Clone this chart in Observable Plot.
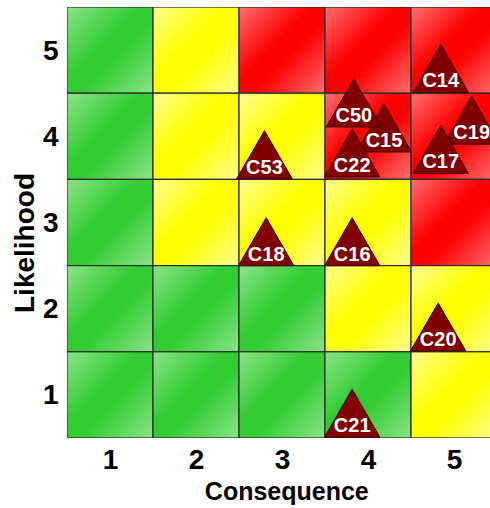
<!DOCTYPE html>
<html>
<head>
<meta charset="utf-8">
<script src="https://cdn.jsdelivr.net/npm/d3@7"></script>
<script src="https://cdn.jsdelivr.net/npm/@observablehq/plot@0.6"></script>
<style>
  html, body { margin: 0; padding: 0; background: white; overflow: hidden; }
  #chart svg { display: block; }
</style>
</head>
<body>
<div id="chart"></div>
<script>
// Axis categories
const consequenceTicks = [1, 2, 3, 4, 5];
const likelihoodTicks = [1, 2, 3, 4, 5];

// Risk level per cell, rows from likelihood 5 (top) down to likelihood 1
const levelRows = [
  ["green", "yellow", "red", "red", "red"],       // likelihood 5
  ["green", "yellow", "yellow", "red", "red"],    // likelihood 4
  ["green", "yellow", "yellow", "yellow", "red"], // likelihood 3
  ["green", "green", "green", "yellow", "yellow"],// likelihood 2
  ["green", "green", "green", "green", "yellow"]  // likelihood 1
];
const rowLikelihood = [5, 4, 3, 2, 1];

// Risks (drawing order), positioned by consequence / likelihood
const riskIds        = ["C14", "C19", "C17", "C15", "C50", "C22", "C53", "C18", "C16", "C20", "C21"];
const riskConsequence = [4.84, 5.20, 4.84, 4.18, 3.83, 3.81, 2.79, 2.81, 3.81, 4.81, 3.81];
const riskLikelihood  = [4.70, 4.10, 3.76, 4.01, 4.30, 3.72, 3.70, 2.69, 2.69, 1.70, 0.70];

const axisTitleX = "Consequence";
const axisTitleY = "Likelihood";

// Build tables for the library
const cells = [];
levelRows.forEach((row, i) => row.forEach((level, j) => {
  cells.push({c: consequenceTicks[j], l: rowLikelihood[i], level});
}));
const risks = riskIds.map((id, i) => ({id, c: riskConsequence[i], l: riskLikelihood[i]}));

const font = "'Liberation Sans', Arial, Helvetica, sans-serif";

const chart = Plot.plot({
  width: 490,
  height: 508,
  marginLeft: 67,
  marginRight: 0,
  marginTop: 7,
  marginBottom: 70,
  style: {fontFamily: font, background: "white", color: "#000"},
  x: {domain: [0.5, 5.5], range: [67, 497], label: null},
  y: {domain: [0.5, 5.5], range: [438, 7], label: null},
  color: {type: "identity"},
  marks: [
    Plot.rect(cells, {
      x1: d => d.c - 0.5, x2: d => d.c + 0.5,
      y1: d => d.l - 0.5, y2: d => d.l + 0.5,
      fill: d => `url(#grad-${d.level})`,
      stroke: "#2a2a2a", strokeWidth: 1.2,
      clip: true
    }),
    Plot.axisX({ticks: consequenceTicks, tickSize: 0, tickPadding: 11, fontSize: 28, fontWeight: "bold", tickFormat: d => String(d), fill: "#000"}),
    Plot.axisY({ticks: likelihoodTicks, tickSize: 0, tickPadding: 9, fontSize: 28, fontWeight: "bold", tickFormat: d => String(d), fill: "#000"}),
    Plot.text([axisTitleX], {x: () => 3.05, frameAnchor: "bottom", dy: 61, lineAnchor: "bottom", fontSize: 25, fontWeight: "bold", fill: "#000", letterSpacing: "1.2px"}),
    Plot.text([axisTitleY], {frameAnchor: "left", dx: -42, dy: 20, rotate: -90, textAnchor: "middle", fontSize: 28, fontWeight: "bold", fill: "#000"}),
    Plot.dot(risks, {x: "c", y: "l", symbol: "triangle", r: 20.6, fill: "#800000", stroke: "#400000", strokeWidth: 1}),
    Plot.text(risks, {x: "c", y: "l", text: "id", dy: 11, lineAnchor: "bottom", fontSize: 20, fontWeight: "bold", fill: "white"})
  ]
});

// Glossy diagonal gradients for the cells
const svg = d3.select(chart.tagName.toLowerCase() === "svg" ? chart : chart.querySelector("svg"));
const defs = svg.insert("defs", ":first-child");
const gradients = {
  green: ["#8ae487", "#33cc33"],
  yellow: ["#ffff90", "#ffff00"],
  red: ["#ff7070", "#ff0000"]
};
for (const [name, [light, sat]] of Object.entries(gradients)) {
  const g = defs.append("linearGradient").attr("id", `grad-${name}`)
    .attr("x1", 0).attr("y1", 0).attr("x2", 1).attr("y2", 1);
  g.append("stop").attr("offset", 0).attr("stop-color", light);
  g.append("stop").attr("offset", 0.42).attr("stop-color", sat);
  g.append("stop").attr("offset", 0.58).attr("stop-color", sat);
  g.append("stop").attr("offset", 1).attr("stop-color", light);
}

document.getElementById("chart").appendChild(chart);
</script>
</body>
</html>
